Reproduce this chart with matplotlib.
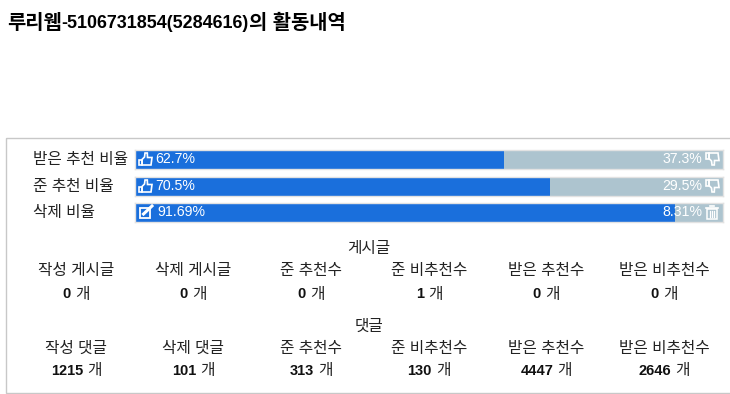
import matplotlib
matplotlib.use('Agg')
import matplotlib.pyplot as plt
from matplotlib.patches import Rectangle, Polygon

plt.rcParams['font.family'] = ['Liberation Sans', 'Noto Sans CJK KR', 'DejaVu Sans']

W, H = 730, 394

title_parts = ['루리웹', '-5106731854(5284616)', '의 활동내역']
bar_labels = ['받은 추천 비율', '준 추천 비율', '삭제 비율']
left_values = [62.7, 70.5, 91.69]
right_values = [37.3, 29.5, 8.31]
left_text = ['62.7%', '70.5%', '91.69%']
right_text = ['37.3%', '29.5%', '8.31%']

post_heads = ['작성 게시글', '삭제 게시글', '준 추천수', '준 비추천수', '받은 추천수', '받은 비추천수']
post_counts = [0, 0, 0, 1, 0, 0]
reply_heads = ['작성 댓글', '삭제 댓글', '준 추천수', '준 비추천수', '받은 추천수', '받은 비추천수']
reply_counts = [1215, 101, 313, 130, 4447, 2646]

col_x = [76, 193, 311, 429, 546, 664]
bar_top = [149.5, 176.5, 202.5]
bar_h = 19
BLUE = '#1a6fdc'
GREY = '#adc4cf'
EDGE = '#e2e2e2'
KO = 11.3
TXT = '#222222'

fig = plt.figure(figsize=(W / 100, H / 100), dpi=100, facecolor='white')

# page overlay in pixel coordinates, y pointing down
page = fig.add_axes([0, 0, 1, 1], zorder=2)
page.set_xlim(0, W)
page.set_ylim(H, 0)
page.axis('off')
page.add_patch(Rectangle((6, 138), 730, 254.5, fc='none', ec='#c8c8c8', lw=1))


def thumb(x, y, down=False):
    s = -1 if down else 1
    hand = [(x + 3.5, y + 0.5 * s), (x + 6, y - 2 * s), (x + 6.5, y - 6 * s), (x + 8.8, y - 6 * s),
            (x + 9, y - 1.5 * s), (x + 13.5, y - 1.5 * s), (x + 12.5, y + 6 * s), (x + 3.5, y + 6 * s)]
    page.add_patch(Polygon(hand, closed=True, fc='none', ec='white', lw=1.2, zorder=5))
    page.add_patch(Polygon([(x, y + 0.5 * s), (x + 3, y + 0.5 * s), (x + 3, y + 6 * s), (x, y + 6 * s)],
                           closed=True, fc='none', ec='white', lw=1.2, zorder=5))


def edit_icon(x, y):
    page.add_patch(Rectangle((x, y - 4.5), 10, 10, fc='none', ec='white', lw=1.3, zorder=5))
    page.plot([x + 3.5, x + 12], [y + 2, y - 6], color='white', lw=2.2, zorder=6)


def trash_icon(x, y):
    page.add_patch(Rectangle((x + 1, y - 3.5), 10, 10, fc='none', ec='white', lw=1.1, zorder=5))
    page.plot([x, x + 12], [y - 4, y - 4], color='white', lw=1.2, zorder=5)
    page.plot([x + 4, x + 8], [y - 6, y - 6], color='white', lw=1.2, zorder=5)
    for dx in (3.8, 6, 8.2):
        page.plot([x + dx, x + dx], [y - 1.5, y + 4.5], color='white', lw=0.9, zorder=5)


def text_width(t):
    return t.get_window_extent(fig.canvas.get_renderer()).width


def count_text(cx, y, n):
    a = page.text(0, y, str(n), fontsize=10.5, fontweight='bold', va='center', ha='left', color='#111111')
    b = page.text(0, y, '개', fontsize=KO, va='center', ha='left', color='#222222')
    wa = text_width(a)
    wb = text_width(b) + 4
    a.set_x(cx - (wa + wb) / 2)
    b.set_x(cx - (wa + wb) / 2 + wa + 4)


x = 7
for part, size in zip(title_parts, [14.3, 12.85, 14.3]):
    t = page.text(x, 23, part, fontsize=size, fontweight='bold', va='center', ha='left', color='black')
    x += text_width(t)

for i, name in enumerate(bar_labels):
    top = bar_top[i]
    ax = fig.add_axes([134.5 / W, 1 - (top + bar_h) / H, 589 / W, bar_h / H], zorder=1)
    ax.barh([0], [left_values[i]], height=1, color=BLUE)
    ax.barh([0], [right_values[i]], left=[left_values[i]], height=1, color=GREY)
    ax.set_xlim(0, 100)
    ax.set_ylim(-0.5, 0.5)
    ax.set_xticks([])
    ax.set_yticks([])
    for sp in ax.spines.values():
        sp.set_color(EDGE)
        sp.set_linewidth(1)
    cy = top + bar_h / 2
    page.text(33, cy, name, fontsize=KO, va='center', ha='left', color=TXT, zorder=4)
    if i < 2:
        thumb(138.5, cy)
        thumb(705.5, cy, down=True)
        page.text(155, cy, left_text[i], fontsize=10.2, color='white', va='center', ha='left', zorder=5)
    else:
        edit_icon(140, cy)
        trash_icon(706, cy)
        page.text(157, cy, left_text[i], fontsize=10.2, color='white', va='center', ha='left', zorder=5)
    page.text(702, cy, right_text[i], fontsize=10.2, color='white', va='center', ha='right', zorder=5)

page.text(369, 248, '게시글', fontsize=KO, va='center', ha='center', color=TXT)
page.text(369, 326, '댓글', fontsize=KO, va='center', ha='center', color=TXT)

for j, cx in enumerate(col_x):
    page.text(cx, 271, post_heads[j], fontsize=KO, va='center', ha='center', color=TXT)
    count_text(cx, 294, post_counts[j])
    page.text(cx, 348, reply_heads[j], fontsize=KO, va='center', ha='center', color=TXT)
    count_text(cx, 371, reply_counts[j])

fig.savefig('out.png', dpi=100)
